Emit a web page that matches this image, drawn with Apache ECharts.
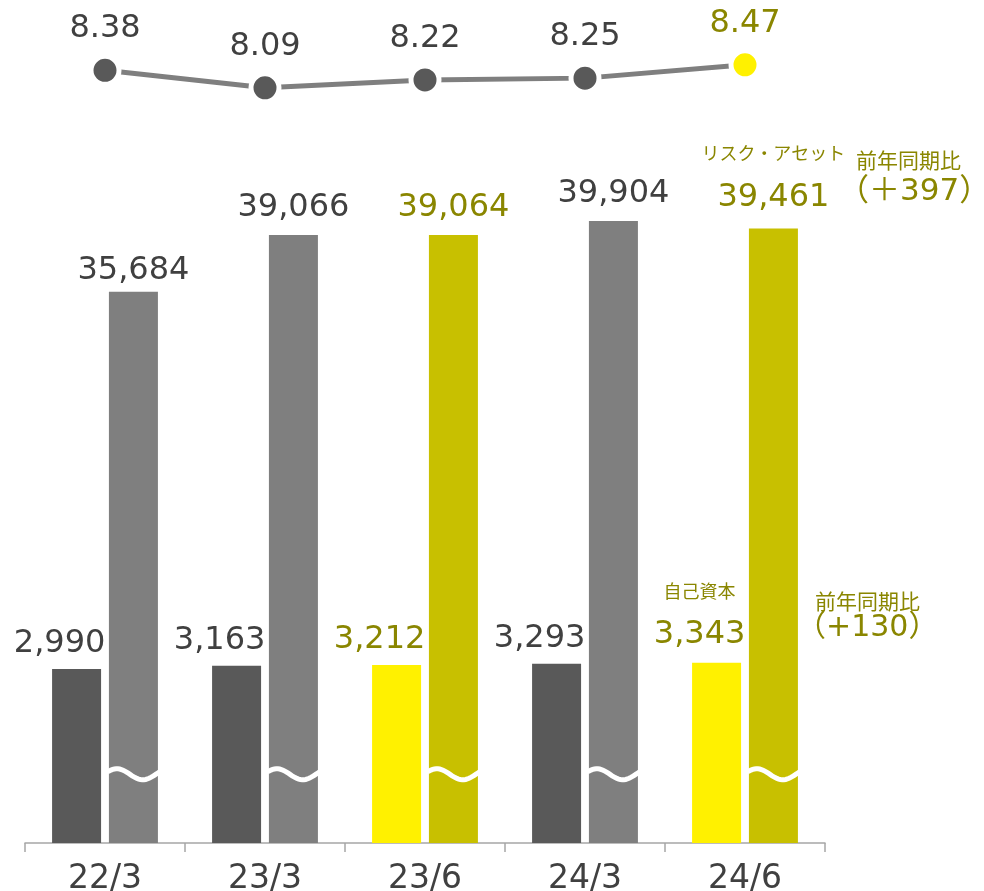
<!DOCTYPE html>
<html>
<head>
<meta charset="utf-8">
<script src="https://cdn.jsdelivr.net/npm/echarts@6/dist/echarts.min.js"></script>
<style>
  html, body { margin: 0; padding: 0; background: #fff; }
  #main { width: 984px; height: 891px; }
</style>
</head>
<body>
<div id="main"></div>
<script>
// データ
var categories = ['22/3', '23/3', '23/6', '24/3', '24/6'];
var equity = [2990, 3163, 3212, 3293, 3343];          // 自己資本
var riskAssets = [35684, 39066, 39064, 39904, 39461]; // リスク・アセット
var capitalRatio = [8.38, 8.09, 8.22, 8.25, 8.47];
var highlighted = [false, false, true, false, true];
var riskTitle = 'リスク・アセット';
var equityTitle = '自己資本';
var yoyTitle = '前年同期比';
var yoyRisk = '（＋397）';
var yoyEquity = '（+130）';
var breakLevel = 6900; // 波線の位置（リスク・アセット軸）

var DARK = '#595959', GRAY = '#7f7f7f', YELLOW = '#fff100', OLIVE = '#c8c000';
var TEXT = '#404040', OLIVE_TEXT = '#8a8600';
var NUM_FONT = '"DejaVu Sans", "Noto Sans CJK JP"';
var JP_FONT = '"Noto Sans CJK JP"';
var last = categories.length - 1;

function fmt(v) { return v.toLocaleString('en-US'); }

function richFor(color) {
    return {
        v: { color: color, fontSize: 32, lineHeight: 36, fontFamily: NUM_FONT },
        t: { color: color, fontSize: 18, lineHeight: 52, fontFamily: JP_FONT }
    };
}

var equityData = equity.map(function (v, i) {
    var c = highlighted[i] ? OLIVE_TEXT : TEXT;
    return {
        value: v,
        itemStyle: { color: highlighted[i] ? YELLOW : DARK },
        label: {
            distance: i === last ? 10 : 7,
            formatter: i === last ? '{t|' + equityTitle + '}\n{v|' + fmt(v) + '}' : '{v|' + fmt(v) + '}',
            rich: richFor(c)
        }
    };
});

var riskData = riskAssets.map(function (v, i) {
    var c = highlighted[i] ? OLIVE_TEXT : TEXT;
    return {
        value: v,
        itemStyle: { color: highlighted[i] ? OLIVE : GRAY },
        label: {
            distance: i === last ? 13 : (i === 0 ? 3 : 9),
            formatter: i === last ? '{t|' + riskTitle + '}\n{v|' + fmt(v) + '}' : '{v|' + fmt(v) + '}',
            rich: richFor(c)
        }
    };
});

var ratioData = capitalRatio.map(function (v, i) {
    return {
        value: v,
        itemStyle: { color: i === last ? YELLOW : DARK },
        label: { color: i === last ? OLIVE_TEXT : TEXT }
    };
});

var myChart = echarts.init(document.getElementById('main'));

var option = {
    animation: false,
    grid: [
        { left: 25, right: 159, top: 102, bottom: 48, outerBoundsMode: 'none' },
        { left: 25, right: 159, top: 32.9, bottom: 797.8, outerBoundsMode: 'none' }
    ],
    xAxis: [{
        type: 'category',
        gridIndex: 0,
        data: categories,
        axisLine: { onZero: false, lineStyle: { color: '#a6a6a6', width: 1.5 } },
        axisTick: { show: true, length: 9, lineStyle: { color: '#a6a6a6', width: 1.5 } },
        axisLabel: { color: TEXT, fontSize: 33, margin: 20, fontFamily: NUM_FONT }
    }, {
        type: 'category',
        gridIndex: 1,
        data: categories,
        show: false
    }],
    yAxis: [
        // 自己資本は圧縮した目盛り
        { type: 'log', gridIndex: 0, min: 118, max: 111200000, show: false },
        { type: 'value', gridIndex: 0, min: 2800, max: 47000, show: false },
        { type: 'value', gridIndex: 1, min: 8, max: 9, show: false }
    ],
    series: [{
        name: '自己資本',
        type: 'bar',
        xAxisIndex: 0,
        yAxisIndex: 0,
        barWidth: 49,
        barGap: '16%',
        data: equityData,
        label: { show: true, position: 'top', offset: [-17, 0] }
    }, {
        name: 'リスク・アセット',
        type: 'bar',
        xAxisIndex: 0,
        yAxisIndex: 1,
        barWidth: 49,
        barGap: '16%',
        data: riskData,
        label: { show: true, position: 'top' }
    }, {
        // 省略を示す波線
        type: 'custom',
        xAxisIndex: 0,
        yAxisIndex: 1,
        silent: true,
        z: 10,
        data: categories.map(function (c, i) { return [i, breakLevel]; }),
        renderItem: function (params, api) {
            var p = api.coord([api.value(0), api.value(1)]);
            var cx = p[0] + 28.5;
            var half = 26;
            var pts = [];
            for (var k = 0; k <= 30; k++) {
                var t = k / 30;
                pts.push([cx - half + 2 * half * t, p[1] - 5.5 * Math.sin(2 * Math.PI * t + 0.44)]);
            }
            return {
                type: 'polyline',
                shape: { points: pts },
                style: { stroke: '#fff', lineWidth: 5, fill: null }
            };
        }
    }, {
        name: '自己資本比率',
        type: 'line',
        xAxisIndex: 1,
        yAxisIndex: 2,
        data: ratioData,
        symbol: 'circle',
        symbolSize: 28,
        lineStyle: { color: GRAY, width: 5 },
        itemStyle: { borderColor: '#fff', borderWidth: 5 },
        label: {
            show: true,
            position: 'top',
            distance: 7,
            fontSize: 32,
            lineHeight: 36,
            fontFamily: NUM_FONT
        }
    }],
    graphic: [
        { type: 'text', left: 856, top: 150, style: { text: yoyTitle, fill: OLIVE_TEXT, font: '21px "Noto Sans CJK JP"' } },
        { type: 'text', left: 838, top: 176, style: { text: yoyRisk, fill: OLIVE_TEXT, font: '31px "DejaVu Sans", "Noto Sans CJK JP"' } },
        { type: 'text', left: 815, top: 591, style: { text: yoyTitle, fill: OLIVE_TEXT, font: '21px "Noto Sans CJK JP"' } },
        { type: 'text', left: 796, top: 613, style: { text: yoyEquity, fill: OLIVE_TEXT, font: '30px "DejaVu Sans", "Noto Sans CJK JP"' } }
    ]
};

myChart.setOption(option);
</script>
</body>
</html>
